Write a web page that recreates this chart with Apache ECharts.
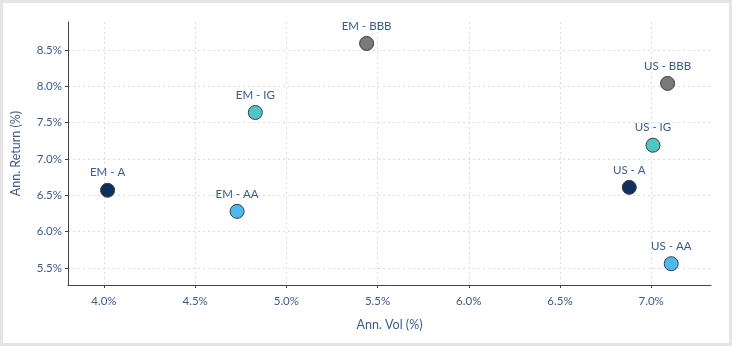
<!DOCTYPE html>
<html><head><meta charset="utf-8">
<script src="https://cdn.jsdelivr.net/npm/echarts@6/dist/echarts.min.js"></script>
<style>html,body{margin:0;padding:0;background:#fff;}#c{width:732px;height:346px;}</style>
</head><body><div id="c"></div>
<script>
const names = ['EM - A','EM - AA','EM - IG','EM - BBB','US - BBB','US - IG','US - A','US - AA'];
const annVol = [4.02, 4.73, 4.83, 5.44, 7.09, 7.01, 6.88, 7.11];
const annReturn = [6.57, 6.28, 7.64, 8.59, 8.04, 7.19, 6.61, 5.56];
const xTicks = [4.0, 4.5, 5.0, 5.5, 6.0, 6.5, 7.0];
const yTicks = [5.5, 6.0, 6.5, 7.0, 7.5, 8.0, 8.5];

const palette = {'A':'#0f2f60','AA':'#4cb9f0','IG':'#4ec7c2','BBB':'#7a7a7a'};
const textColor = '#3a5a8e';
const font = 'Lato, "Open Sans", sans-serif';

const data = names.map((n,i)=>{
  const g = n.split(' - ')[1];
  return {name:n, value:[annVol[i], annReturn[i]], itemStyle:{color:palette[g]}};
});

const chart = echarts.init(document.getElementById('c'));
chart.setOption({
  animation:false,
  textStyle:{fontFamily:font},
  graphic:[{type:'rect',shape:{x:1.5,y:1.5,width:729,height:343},style:{fill:'none',stroke:'#e4e4e4',lineWidth:3},silent:true}],
  grid:{left:68,right:21,top:22,bottom:61,containLabel:false,outerBoundsMode:'none'},
  xAxis:{
    type:'value', min:3.803, max:7.328,
    name:'Ann. Vol (%)', nameLocation:'middle', nameGap:33,
    nameTextStyle:{color:textColor,fontSize:12.5,fontFamily:font},
    axisLine:{show:true,lineStyle:{color:'#444',width:1}},
    axisTick:{show:true,length:3,lineStyle:{color:'#444'},customValues:xTicks},
    axisLabel:{color:textColor,fontSize:11.5,fontFamily:font,margin:10,customValues:xTicks,formatter:v=>v.toFixed(1)+'%'},
    splitLine:{show:true,lineStyle:{color:'#dcdcdc',type:[2,3]}}
  },
  yAxis:{
    type:'value', min:5.267, max:8.885,
    name:'Ann. Return (%)', nameLocation:'middle', nameGap:46, nameRotate:90,
    nameTextStyle:{color:textColor,fontSize:12.5,fontFamily:font},
    axisLine:{show:true,lineStyle:{color:'#444',width:1}},
    axisTick:{show:true,length:3,lineStyle:{color:'#444'},customValues:yTicks},
    axisLabel:{color:textColor,fontSize:11.5,fontFamily:font,margin:6,customValues:yTicks,formatter:v=>v.toFixed(1)+'%'},
    splitLine:{show:true,lineStyle:{color:'#dcdcdc',type:[2,3]}}
  },
  series:[{
    type:'scatter', symbolSize:14,
    itemStyle:{borderColor:'#3c3c3c',borderWidth:1, opacity:1},
    label:{show:true,position:'top',distance:4,formatter:p=>p.name,color:textColor,fontSize:11.5,fontFamily:font},
    data:data
  }]
});
</script></body></html>
